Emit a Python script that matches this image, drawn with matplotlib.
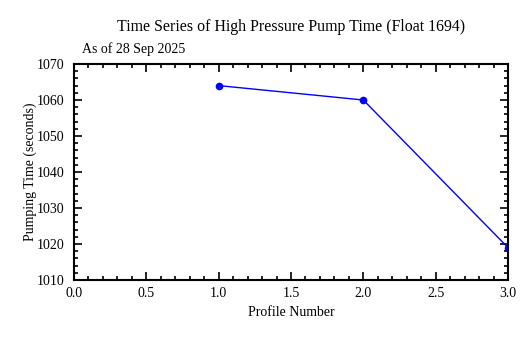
import matplotlib
matplotlib.use("Agg")
import matplotlib.pyplot as plt
from matplotlib.ticker import MultipleLocator

profiles = [1, 2, 3]
pump_time = [1064, 1060, 1019]

plt.rcParams['font.family'] = ['Liberation Serif', 'DejaVu Serif']
plt.rcParams['font.size'] = 10

fig = plt.figure(figsize=(5.32, 3.38), dpi=100)
ax = fig.add_axes([74/532, 1-280/338, 434/532, 216/338])

ax.plot(profiles, pump_time, color='blue', lw=1, marker='o', ms=4.5)

ax.set_xlim(0, 3)
ax.set_ylim(1010, 1070)
ax.xaxis.set_major_locator(MultipleLocator(0.5))
ax.xaxis.set_minor_locator(MultipleLocator(0.1))
ax.yaxis.set_major_locator(MultipleLocator(10))
ax.yaxis.set_minor_locator(MultipleLocator(2))
ax.tick_params(which='both', direction='in', top=True, right=True, width=1.2)
ax.tick_params(which='major', length=6)
ax.tick_params(which='minor', length=3)
ax.tick_params(axis='y', pad=7)
ax.tick_params(axis='x', pad=5)
for s in ax.spines.values():
    s.set_linewidth(1.5)

ax.set_xlabel('Profile Number', labelpad=4)
ax.set_ylabel('Pumping Time (seconds)', labelpad=0)
fig.text((74 + 508) / 2 / 532, 1-27/338, 'Time Series of High Pressure Pump Time (Float 1694)',
         ha='center', va='center', fontsize=11.4)
ax.text(8/434, 1.035, 'As of 28 Sep 2025', transform=ax.transAxes, ha='left', va='bottom')

fig.savefig('out.png', dpi=100)
